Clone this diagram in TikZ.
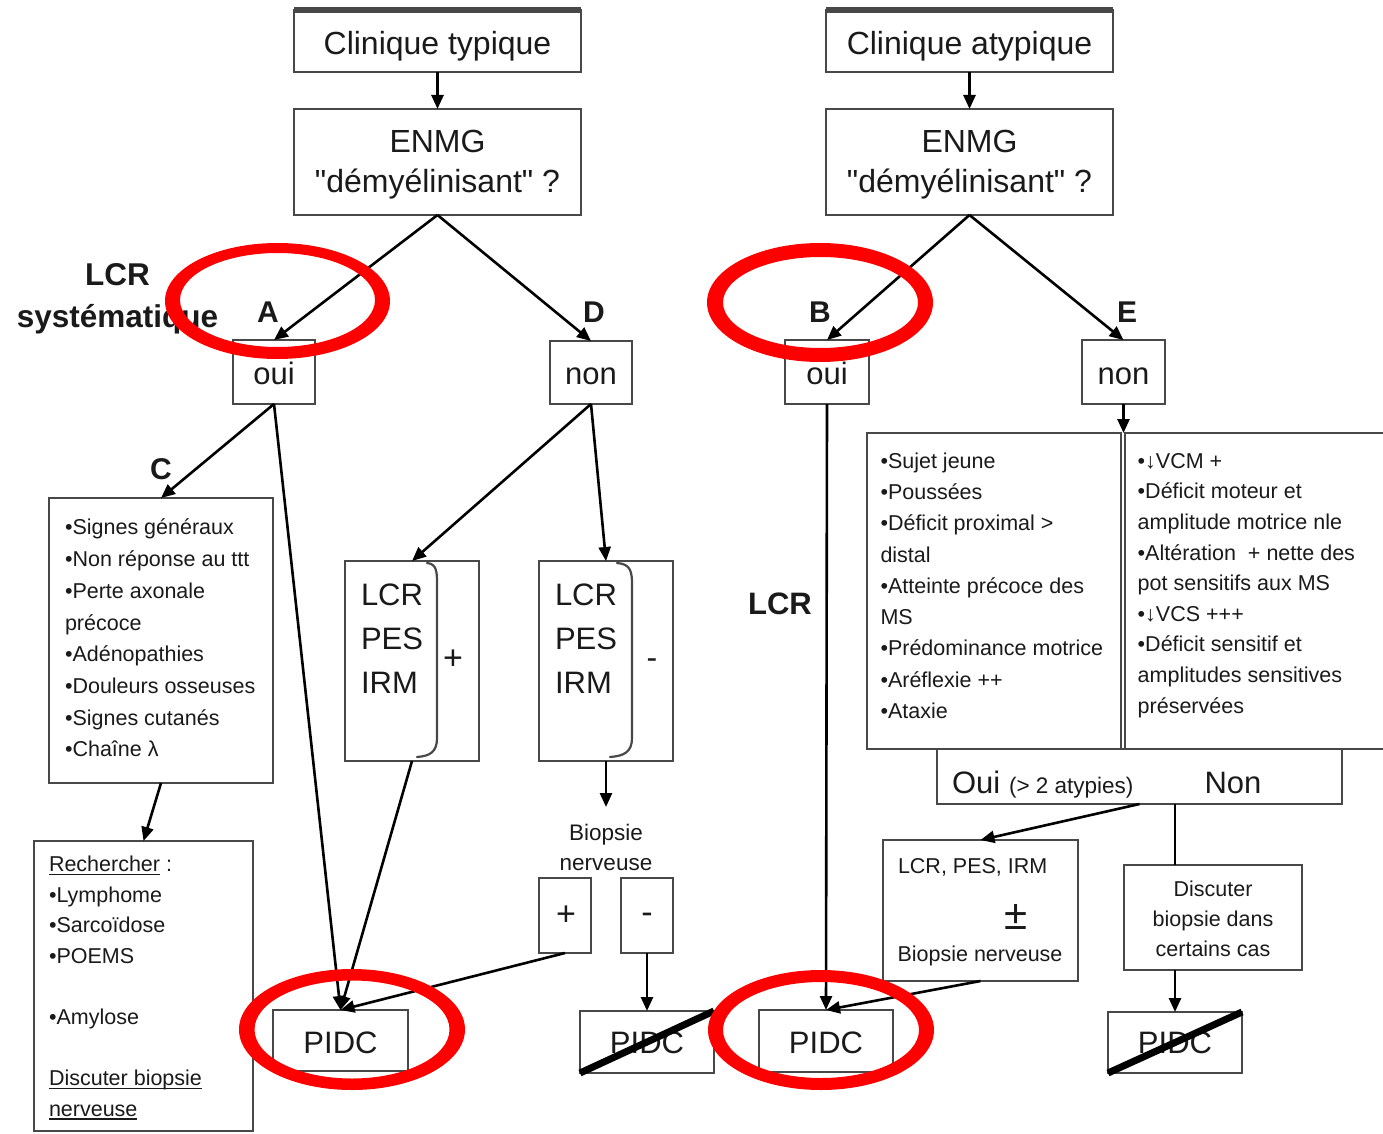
\documentclass[tikz,border=0pt]{standalone}
\usepackage{fontspec}
\setmainfont{Liberation Sans}[Ligatures=TeXOff]
\usetikzlibrary{arrows.meta}
\definecolor{boxgray}{HTML}{484848}
\definecolor{txt}{HTML}{1A1A1A}
\definecolor{redc}{HTML}{FF0000}
\newcommand\fsz[2]{\fontsize{#1}{#2}\selectfont}
\newcommand\ulx[1]{\setbox0\hbox{#1}\rlap{\rule[-3.5pt]{\wd0}{1.6pt}}\box0\relax}
\begin{document}
\begin{tikzpicture}[x=1pt,y=-1pt,
  box/.style={draw=boxgray, line width=2.6pt, inner sep=0pt, outer sep=0pt, fill=white},
  conn/.style={draw=black, line width=2.6pt, -{Triangle[length=14pt,width=12pt]}},
  link/.style={draw=black, line width=2.6pt},
  tx/.style={inner sep=0pt, outer sep=0pt, text=txt},
  strike/.style={draw=black, line width=7pt},
  ring/.style={fill=redc, even odd rule},
  brace/.style={draw=boxgray, line width=2.2pt, line cap=round}]
\useasboundingbox (0,0) rectangle (1383,1134);
\fill[white] (0,0) rectangle (1383,1134);

% ---------- boxes ----------
\node[box, minimum width=287pt, minimum height=62pt]  (ct)   at (437.5,41)   {};
\node[box, minimum width=287pt, minimum height=106pt] (en1)  at (437.5,162)  {};
\node[box, minimum width=287pt, minimum height=62pt]  (ca)   at (969.5,41)   {};
\node[box, minimum width=287pt, minimum height=106pt] (en2)  at (969.5,162)  {};
\node[box, minimum width=82pt,  minimum height=64pt]  (oui1) at (274,372)    {};
\node[box, minimum width=82pt,  minimum height=63pt]  (non1) at (591,372.5)  {};
\node[box, minimum width=84pt,  minimum height=64pt]  (oui2) at (827,372)    {};
\node[box, minimum width=83pt,  minimum height=64pt]  (non2) at (1123.5,372) {};
\node[box, minimum width=224pt, minimum height=285pt] (cb)   at (161,640.5)  {};
\node[box, minimum width=219pt, minimum height=290pt] (rb)   at (143.5,986)  {};
\node[box, minimum width=134pt, minimum height=200pt] (lp)   at (412,661)    {};
\node[box, minimum width=134pt, minimum height=200pt] (lm)   at (606,661)    {};
\node[box, minimum width=52pt,  minimum height=75pt]  (pb)   at (565,915.5)  {};
\node[box, minimum width=52pt,  minimum height=75pt]  (mb)   at (647,915.5)  {};
\node[box, minimum width=135pt, minimum height=61pt]  (p1)   at (340.5,1040.5) {};
\node[box, minimum width=134pt, minimum height=62pt]  (px1)  at (647,1042)   {};
\node[box, minimum width=134pt, minimum height=62pt]  (p2)   at (826,1041)   {};
\node[box, minimum width=254pt, minimum height=316pt] (bl)   at (994,591)    {};
\node[box, minimum width=265pt, minimum height=316pt] (br)   at (1257.5,591) {};
\node[box, minimum width=405pt, minimum height=55pt]  (on)   at (1139.5,776.5) {};
\node[box, minimum width=195pt, minimum height=141pt] (lb)   at (980.5,910.5) {};
\node[box, minimum width=178pt, minimum height=105pt] (db)   at (1213,917.5) {};
\node[box, minimum width=134pt, minimum height=61pt]  (px2)  at (1175,1042.5) {};

\draw[boxgray, line width=6pt] (ct.north west) -- (ct.north east);
\draw[boxgray, line width=6pt] (ca.north west) -- (ca.north east);

% braces
\draw[brace] (427,563) .. controls (437,564) and (437,572) .. (437,585) -- (437,738) .. controls (437,752) and (430,756) .. (417,757);
\draw[brace] (617,563) .. controls (631,564) and (632,572) .. (632,585) -- (632,738) .. controls (632,752) and (624,756) .. (610,757);

% ---------- texts ----------
\node[tx, font=\fsz{32}{40}, anchor=base] (ctt) at (437.5,55) {Clinique typique};
\node[tx, font=\fsz{32}{40}, anchor=base] (cat) at (969.5,55) {Clinique atypique};
\node[tx, font=\fsz{32}{40}, anchor=north, align=center] (en1t) at (437.5,125) {\strut ENMG\\"démyélinisant" ?};
\node[tx, font=\fsz{32}{40}, anchor=north, align=center] (en2t) at (969.5,125) {\strut ENMG\\"démyélinisant" ?};

\node[tx, font=\fsz{31}{40}, anchor=base] (oui1t) at (274,384) {oui};
\node[tx, font=\fsz{31}{40}, anchor=base] (non1t) at (591,384) {non};
\node[tx, font=\fsz{31}{40}, anchor=base] (oui2t) at (827,384) {oui};
\node[tx, font=\fsz{31}{40}, anchor=base] (non2t) at (1123.5,384) {non};

\node[tx, font=\fsz{30}{40}\bfseries, anchor=base] (la) at (268,322) {A};
\node[tx, font=\fsz{30}{40}\bfseries, anchor=base] (ld) at (594,322) {D};
\node[tx, font=\fsz{30}{40}\bfseries, anchor=base] (lbB) at (820,322) {B};
\node[tx, font=\fsz{30}{40}\bfseries, anchor=base] (le) at (1127,322) {E};
\node[tx, font=\fsz{30}{40}\bfseries, anchor=base] (lc) at (161,479) {C};
\node[tx, font=\fsz{31.5}{42}\bfseries, anchor=north, align=center] (lcrsys) at (117.5,255.6) {\strut LCR\\systématique};
\node[tx, font=\fsz{31}{42}\bfseries, anchor=base] (lcrr) at (780,614) {LCR};

\node[tx, font=\fsz{21.5}{31.7}, anchor=north west, align=left] (cbt) at (65,512.8)
  {\strut •Signes généraux\\•Non réponse au ttt\\•Perte axonale\\précoce\\•Adénopathies\\•Douleurs osseuses\\•Signes cutanés\\•Chaîne λ};
\node[tx, font=\fsz{21.5}{30.6}, anchor=north west, align=left] (rbt) at (49,850.3)
  {\strut \ulx{Rechercher} :\\•Lymphome\\•Sarcoïdose\\•POEMS\\ \\•Amylose\\ \\\ulx{Discuter biopsie}\\\ulx{nerveuse}};

\node[tx, font=\fsz{31}{44}, anchor=north west, align=left] (lpt) at (361,574.2) {\strut LCR\\PES\\IRM};
\node[tx, font=\fsz{31}{44}, anchor=north west, align=left] (lmt) at (555,574.2) {\strut LCR\\PES\\IRM};
\node[tx, font=\fsz{34}{40}] (lpp) at (453,660) {+};
\node[tx, font=\fsz{32}{40}] (lmm) at (652,664) {-};

\node[tx, font=\fsz{22.5}{30}, anchor=north, align=center] (biop) at (606,819) {\strut Biopsie\\nerveuse};
\node[tx, font=\fsz{34}{40}] (pbt) at (566,916) {+};
\node[tx, font=\fsz{34}{40}] (mbt) at (647,918) {-};

\node[tx, font=\fsz{31}{40}, anchor=base] (p1t)  at (340.5,1053) {PIDC};
\node[tx, font=\fsz{31}{40}, anchor=base] (px1t) at (647,1053) {PIDC};
\node[tx, font=\fsz{31}{40}, anchor=base] (p2t)  at (826,1053) {PIDC};
\node[tx, font=\fsz{31}{40}, anchor=base] (px2t) at (1175,1053) {PIDC};

\node[tx, font=\fsz{21.5}{31.25}, anchor=north west, align=left] (blt) at (880.5,446.4)
  {\strut •Sujet jeune\\•Poussées\\•Déficit proximal >\\distal\\•Atteinte précoce des\\MS\\•Prédominance motrice\\•Aréflexie ++\\•Ataxie};
\node[tx, font=\fsz{21.5}{30.6}, anchor=north west, align=left] (brt) at (1137.7,446.9)
  {\strut •↓VCM +\\•Déficit moteur et\\amplitude motrice nle\\•Altération\ \ + nette des\\pot sensitifs aux MS\\•↓VCS +++\\•Déficit sensitif et\\amplitudes sensitives\\préservées};

\node[tx, font=\fsz{31}{40}, anchor=base west] (ouit) at (952,793) {Oui};
\node[tx, font=\fsz{22.5}{30}, anchor=base west] (atyp) at (1009,793) {(> 2 atypies)};
\node[tx, font=\fsz{31}{40}, anchor=base] (nont) at (1233,793) {Non};

\node[tx, font=\fsz{21.5}{30}, anchor=base west] (lbt1) at (898,873.3) {LCR, PES, IRM};
\node[tx, font=\fsz{42}{44}] (lbpm) at (1016,917) {±};
\node[tx, font=\fsz{21.5}{30}, anchor=base] (lbt2) at (980,961.7) {Biopsie nerveuse};

\node[tx, font=\fsz{21.5}{29.7}, anchor=north, align=center] (dbt) at (1213,875.9) {\strut Discuter\\biopsie dans\\certains cas};

% ---------- connectors ----------
\draw[conn] (ct.south) -- (en1.north);
\draw[conn] (ca.south) -- (en2.north);
\draw[conn] (en1.south) -- (oui1.north);
\draw[conn] (en1.south) -- (non1.north);
\draw[conn] (en2.south) -- (oui2.north);
\draw[conn] (en2.south) -- (non2.north);
\draw[conn] (oui1.south) -- (cb.north);
\draw[conn] (oui1.south) -- (p1.north);
\draw[conn] (non1.south) -- (lp.north);
\draw[conn] (non1.south) -- (lm.north);
\draw[conn] (cb.south) -- (rb.north);
\draw[conn] (lp.south) -- (p1.north);
\draw[conn] (lm.south) -- ([yshift=12pt]biop.north);
\draw[conn] (pb.south) -- (p1.north);
\draw[conn] (mb.south) -- (px1.north);
\draw[conn] (oui2.south) -- (p2.north);
\draw[conn] (lb.south) -- (p2.north);
\draw[conn] (non2.south) -- (non2.south |- bl.north);
\draw[conn] (on.south) -- (lb.north);
\draw[link] (on.south -| px2.north) -- (db.north -| px2.north);
\draw[conn] (db.south -| px2.north) -- (px2.north);

% strike-throughs
\draw[strike] (px1.south west) -- (px1.north east);
\draw[strike] (px2.south west) -- (px2.north east);

% ---------- red rings ----------
\fill[ring] (277.5,301) ellipse [x radius=112.5pt, y radius=58pt] (277.5,300) ellipse [x radius=97.5pt, y radius=47pt];
\fill[ring] (820,302.5) ellipse [x radius=113pt, y radius=59.5pt] (820.5,302.5) ellipse [x radius=97.5pt, y radius=45.5pt];
\fill[ring] (352,1029.5) ellipse [x radius=113pt, y radius=60.5pt] (352,1029.5) ellipse [x radius=97.5pt, y radius=49pt];
\fill[ring] (821,1030) ellipse [x radius=113pt, y radius=60pt] (821,1030) ellipse [x radius=98pt, y radius=48pt];
\end{tikzpicture}
\end{document}
